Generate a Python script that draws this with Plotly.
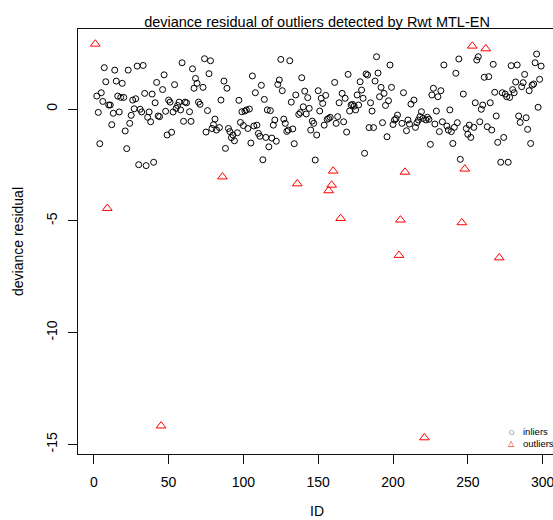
import plotly.graph_objects as go

# ---------------- data ----------------
inlier_id = [2, 3, 4, 5, 6, 7, 8, 10, 11, 12, 13, 14, 15, 16, 17, 18, 19, 20, 21, 22,
             23, 24, 25, 26, 27, 28, 29, 30, 31, 32, 33, 34, 35, 36, 37, 38, 39, 40, 41, 42,
             43, 44, 46, 47, 48, 49, 50, 51, 52, 53, 54, 55, 56, 57, 58, 59, 60, 61, 62, 64,
             65, 66, 67, 68, 69, 70, 71, 73, 74, 75, 76, 77, 78, 79, 80, 81, 82, 84, 85, 87,
             88, 89, 90, 91, 92, 93, 94, 96, 97, 98, 99, 100, 101, 102, 103, 104, 105, 106, 107, 108,
             109, 110, 111, 112, 113, 114, 115, 116, 117, 118, 119, 120, 121, 122, 123, 124, 125, 126, 127, 128,
             129, 130, 131, 132, 133, 134, 135, 137, 138,
             139, 140, 141, 142, 143, 144, 145, 146, 147, 148, 149, 150, 151, 152, 153, 154, 155, 156, 157, 158,
             161, 162, 163, 164, 166, 167, 168, 169, 170, 171, 172, 173, 174, 175, 176, 177, 178, 179, 180, 181,
             182, 183, 184, 185, 186, 187, 188, 189, 190, 191, 192, 193, 194, 195, 196, 197, 198, 199, 200, 201,
             202, 203, 206, 207, 209, 210, 211, 212, 214, 215, 216, 217, 218, 219, 220, 222, 223, 224, 225, 226,
             227, 228, 229, 230, 231, 232, 233, 234, 236, 237, 238, 239, 240, 241, 242, 243, 244, 245, 247, 249,
             250, 251, 252, 254, 255, 256, 257, 258, 259, 260, 261, 263, 264, 265, 266, 267, 268, 269, 270, 272,
             273, 274, 275, 276, 277, 278, 279, 280, 281, 282, 283, 284, 285, 286, 287, 288, 289, 290, 291, 292,
             293, 294, 295, 296, 297, 298, 299]
inlier_res = [0.58, -0.15, -1.55, 0.73, 0.34, 1.85, 1.22, 0.18, 0.18, -0.70, -0.19, 1.74, 1.25, 0.58, -0.13, 0.52, 1.15, 0.52, -0.98, -1.77,
              1.74, -0.64, -0.28, 0.40, 0.01, 0.46, 1.92, -2.49, -0.01, -0.13, 1.95, 0.70, -2.53, -0.37, -0.13, -0.57, 0.67, -2.38, 0.28, 1.19,
              -0.31, -0.34, 0.87, 1.53, -0.10, -1.16, 0.40, 0.31, -1.04, -0.13, 1.09, 0.03, 0.16, 0.31, -0.04, 2.07, -0.55, 0.31, 0.28, -0.12,
              -0.55, 1.80, 0.93, 1.37, 1.15, 0.31, 0.21, 0.97, 2.25, -1.03, -0.07, 1.58, 2.16, -0.87, -0.70, -0.45, -0.94, -0.83, 0.40, 1.25,
              -1.76, 0.93, -0.87, -1.01, -1.28, -1.16, -1.42, -1.06, 0.39, -0.60, -0.12, -0.74, -0.09, -0.04, -0.87, 0.00, -1.52, 1.48, -0.76, 0.73,
              -0.72, -1.09, -1.22, 1.06, -2.27, 0.43, -1.27, -0.04, -1.69, -0.07, -1.30, -0.72, -0.49, -1.44, 1.10, 1.30, 2.22, 0.82, -0.45, -0.64,
              -1.00, -0.94, 2.16, 0.31, -0.89, -1.55, 0.63, -0.24, -0.16,
              1.40, 0.10, 0.80, -0.22, 0.51, 0.03, -0.94, -0.54, -0.64, -2.28, -1.16, 0.82, -0.09, 0.48, 0.25, -0.72, 0.61, -0.46, -0.42, -0.37,
              1.19, -0.64, -0.34, 0.28, 0.70, -0.57, 0.48, -1.03, 1.55, -0.09, 0.18, 0.21, 0.13, -0.04, 0.63, 0.18, 1.22, 0.85, 0.48, -1.98,
              1.57, 1.52, -0.83, 0.28, -0.09, -0.83, 1.25, 2.34, 1.61, 0.55, 0.97, -0.61, 0.70, 0.16, -1.24, 0.37, 1.97, 0.97, -0.69, -0.49,
              -0.43, -0.27, -0.64, 0.73, -0.97, -0.49, -0.67, 0.22, 0.40, -0.82, -0.61, -0.49, -0.34, -0.12, -0.42, -0.49, -0.37, -0.46, -1.58, 0.63,
              0.93, -0.67, -0.09, 0.55, -1.01, 0.82, -0.57, 1.97, -0.76, -0.94, -0.04, -1.01, -1.54, -0.82, 1.60, -0.61, 2.24, -2.25, 0.67, -0.87,
              -1.13, -0.72, -1.27, -0.82, 0.28, 2.19, 2.34, -0.57, -0.01, 0.18, 1.42, -0.79, 1.45, 0.28, -0.94, 2.00, 0.75, -0.31, -1.49, -2.38,
              0.73, -1.27, 0.67, 0.55, -2.38, 0.52, 1.94, 0.87, 0.73, 1.21, 1.97, -0.31, -0.60, 1.00, 1.18, 1.55, -0.39, -0.91, 0.82, -1.54,
              1.07, 1.12, 2.07, 2.46, 0.08, 1.33, 1.92]

outlier_id = [1, 9, 45, 86, 136, 157, 159, 160, 165, 204, 205, 208, 221, 246, 248, 253, 262, 271]
outlier_res = [2.91, -4.44, -14.17, -3.03, -3.34, -3.65, -3.40, -2.77, -4.89, -6.54, -4.96, -2.82,
               -14.70, -5.08, -2.68, 2.82, 2.70, -6.65]

title_text = "deviance residual of outliers detected by Rwt MTL-EN"
x_label = "ID"
y_label = "deviance residual"
series_names = ["inliers", "outliers"]
x_ticks = [0, 50, 100, 150, 200, 250, 300]
y_ticks = [0, -5, -10, -15]

# ---------------- layout constants ----------------
W, H = 553, 520
ML, MR, MT, MB = 78, 0, 29, 66
FONT = "Liberation Sans, Arial, sans-serif"
INK = "#111111"

fig = go.Figure()
fig.add_trace(go.Scatter(
    x=inlier_id, y=inlier_res, mode="markers", name=series_names[0],
    marker=dict(symbol="circle-open", size=6, color="#000000", line=dict(width=1)),
))
fig.add_trace(go.Scatter(
    x=outlier_id, y=outlier_res, mode="markers", name=series_names[1],
    marker=dict(symbol="triangle-up-open", size=8.5, color="#FF0000", line=dict(width=1)),
))

axis_common = dict(
    showgrid=False, zeroline=False, ticks="outside", ticklen=9, tickwidth=1,
    tickcolor=INK, showline=True, linecolor=INK, linewidth=1, automargin=False,
    tickfont=dict(family=FONT, size=14, color="#000000"),
)

fig.update_layout(
    width=W, height=H,
    margin=dict(l=ML, r=MR, t=MT, b=MB, pad=0, autoexpand=False),
    paper_bgcolor="white", plot_bgcolor="white",
    showlegend=False,
    font=dict(family=FONT, size=14, color="#000000"),
    title=dict(text=title_text, x=317 / W, xref="container", xanchor="center",
               y=1 - 22 / H, yref="container", yanchor="middle",
               font=dict(family=FONT, size=14.5, color="#000000")),
    xaxis=dict(range=[-10.56, 306.95], tickvals=x_ticks, ticktext=[str(v) for v in x_ticks],
               mirror=True, ticklabelstandoff=6, ticklabeloverflow="allow",
               **axis_common),
    yaxis=dict(range=[-15.43, 3.58], tickvals=y_ticks, ticktext=[str(v) for v in y_ticks],
               tickangle=-90, mirror=False, ticklabelstandoff=5,
               title=dict(text=y_label, font=dict(family=FONT, size=14), standoff=17),
               **axis_common),
)

px_x = lambda px: (px - ML) / (W - ML - MR)
px_y = lambda py: (H - MB - py) / (H - MT - MB)

# x-axis title, placed low like the R original but kept fully inside the page
fig.add_annotation(x=px_x(317), y=px_y(511), xref="paper", yref="paper",
                   text=x_label, showarrow=False, xanchor="center", yanchor="middle",
                   font=dict(family=FONT, size=14, color="#000000"))

# small legend in the bottom-right corner (R style, built from text)
legend_rows = [(series_names[0], "\u25CB", "#000000", 6, 431.7),
               (series_names[1], "\u25B3", "#FF0000", 8, 443.3)]
for name, sym, col, ssize, yc in legend_rows:
    fig.add_annotation(x=px_x(511.7), y=px_y(yc), xref="paper", yref="paper",
                       text=sym, showarrow=False, xanchor="center", yanchor="middle",
                       font=dict(family="DejaVu Sans", size=ssize, color=col))
    fig.add_annotation(x=px_x(521.3), y=px_y(yc), xref="paper", yref="paper",
                       text=name, showarrow=False, xanchor="left", yanchor="middle",
                       font=dict(family=FONT, size=9.5, color="#000000"))

# remove the default 8px page margin so the figure fills the window exactly
fig.write_html("out.html",
               config={"displayModeBar": False},
               post_script="document.body.style.margin='0';document.body.style.overflow='hidden';")
